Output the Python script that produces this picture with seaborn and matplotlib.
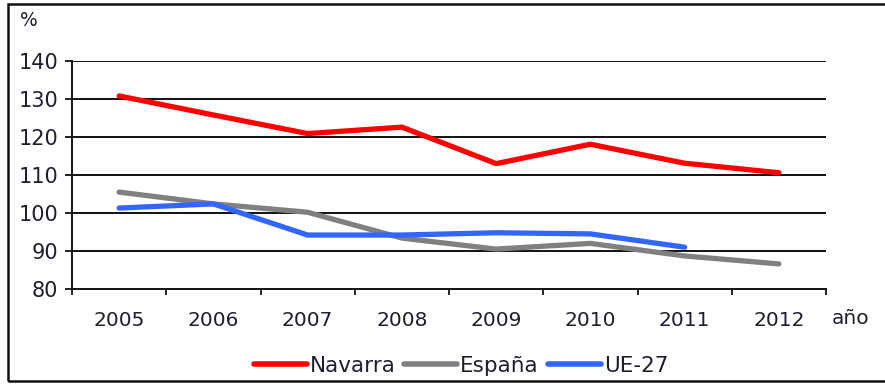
import matplotlib
matplotlib.use("Agg")
import matplotlib.pyplot as plt
from matplotlib.patches import Rectangle
from matplotlib.lines import Line2D
import seaborn as sns
import pandas as pd

# Index values (%) by year
years = [2005, 2006, 2007, 2008, 2009, 2010, 2011, 2012]
navarra = [130.8, 125.8, 120.9, 122.6, 113.0, 118.1, 113.1, 110.6]
espana = [105.5, 102.4, 100.2, 93.4, 90.5, 92.0, 88.7, 86.6]
ue27 = [101.3, 102.4, 94.2, 94.2, 94.8, 94.5, 91.0, None]

series_names = ["Navarra", "España", "UE-27"]
series_colors = ["#ff0000", "#808080", "#3366ff"]
y_ticks = [80, 90, 100, 110, 120, 130, 140]

rows = []
for name, vals in zip(series_names, [navarra, espana, ue27]):
    for yr, v in zip(years, vals):
        if v is not None:
            rows.append({"año": yr, "valor": v, "serie": name})
df = pd.DataFrame(rows)

sns.set_style("white")
plt.rcParams["font.family"] = ["DejaVu Sans"]
text_color = "#1e1e30"

fig = plt.figure(figsize=(8.85, 3.85), dpi=100)
ax = fig.add_axes([72 / 885, 1 - 289 / 385, (826 - 72) / 885, (289 - 61) / 385])

sns.lineplot(data=df, x="año", y="valor", hue="serie", hue_order=series_names,
             palette=series_colors, linewidth=3.8, ax=ax, legend=False,
             solid_capstyle="round", solid_joinstyle="round")

ax.set_xlim(years[0] - 0.5, years[-1] + 0.5)
ax.set_ylim(y_ticks[0], y_ticks[-1])
ax.set_yticks(y_ticks)
ax.set_xticks(years)
ax.set_xticklabels([str(y) for y in years])
ax.set_xticks([y - 0.5 for y in years] + [years[-1] + 0.5], minor=True)

ax.grid(False)
for t in y_ticks[1:]:
    ax.axhline(t, color="#111111", linewidth=1.4, zorder=0.5)

for side in ["top", "right"]:
    ax.spines[side].set_visible(False)
for side in ["left", "bottom"]:
    ax.spines[side].set_color("#111111")
    ax.spines[side].set_linewidth(1.4)

ax.tick_params(axis="y", which="major", direction="out", length=5, width=1.3,
               color="#111111", labelsize=15, labelcolor=text_color, pad=5, left=True)
ax.tick_params(axis="x", which="major", length=0, labelsize=14.5,
               labelcolor=text_color, pad=16)
ax.tick_params(axis="x", which="minor", direction="out", length=4.5, width=1.3,
               color="#111111", bottom=True)
ax.set_xlabel("")
ax.set_ylabel("")

fig.text(20 / 885, 1 - 21 / 385, "%", fontsize=13.5, color=text_color, va="center", ha="left")
fig.text(832 / 885, 1 - 319 / 385, "año", fontsize=14.5, color=text_color, va="center", ha="left")

handles = [Line2D([0], [0], color=c, linewidth=4, solid_capstyle="round") for c in series_colors]
leg = fig.legend(handles, series_names, loc="center", bbox_to_anchor=(461 / 885, 1 - 366 / 385),
                 ncol=3, frameon=False, fontsize=15.5, handlelength=2.45, handletextpad=0.14,
                 columnspacing=0.42, borderaxespad=0, borderpad=0)
for t in leg.get_texts():
    t.set_color(text_color)

# outer frame
fig.patches.append(Rectangle((8 / 885, 1 - 381 / 385), 1.0, (381 - 4) / 385,
                             transform=fig.transFigure, fill=False,
                             edgecolor="#111111", linewidth=1.8))

fig.savefig("out.png", dpi=100, facecolor="white")
